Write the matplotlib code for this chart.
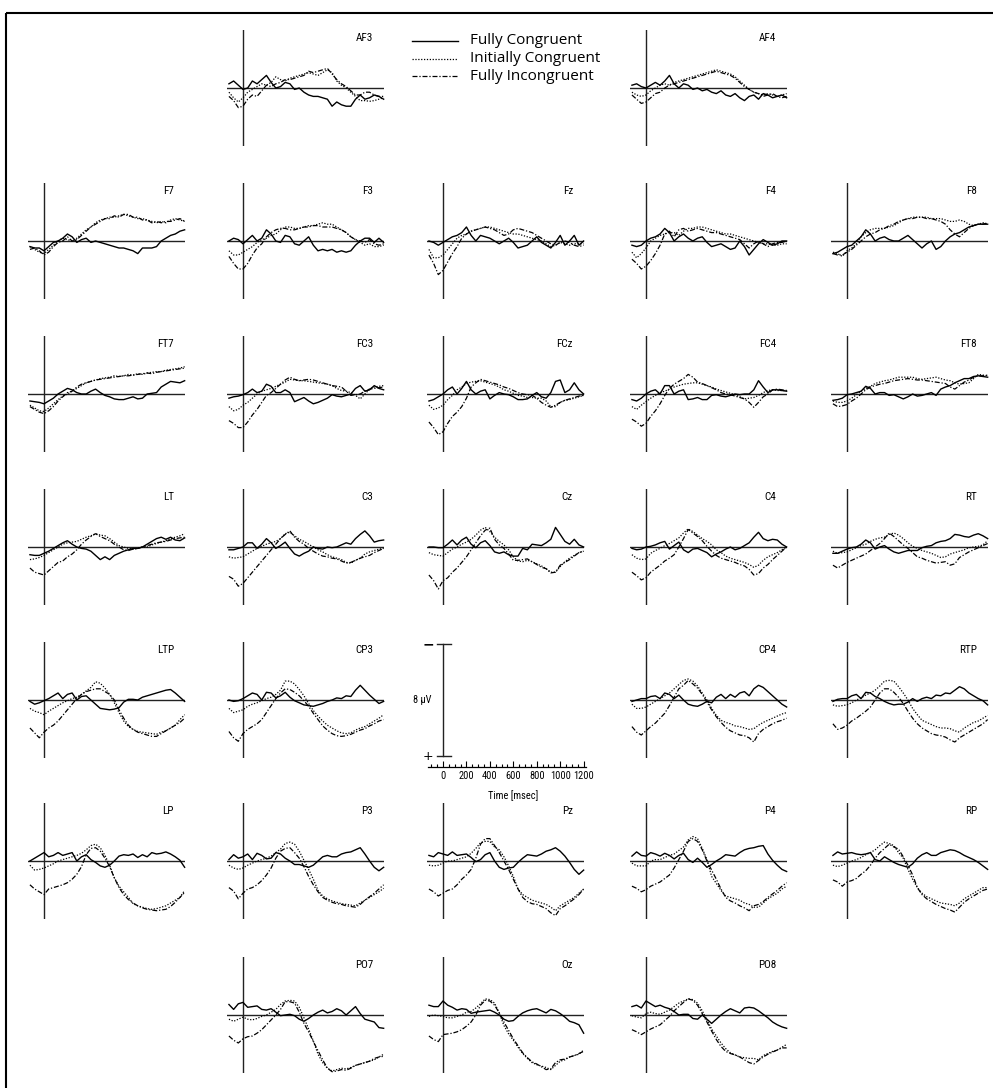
import matplotlib.pyplot as plt
from matplotlib import font_manager

# sample times (ms) of every waveform
times = [-120, -80, -40, 0, 40, 80, 120, 160, 200, 240, 280, 320, 360, 400, 440, 480, 520,
         560, 600, 640, 680, 720, 760, 800, 840, 880, 920, 960, 1000, 1040, 1080, 1120, 1160, 1200]

conditions = ["Fully Congruent", "Initially Congruent", "Fully Incongruent"]

# amplitudes in microvolt (negative plotted upwards), FC / IC / FI per channel
AF3_FC = [-0.3, -0.5, -0.2, 0.1, 0.0, -0.5, -0.3, -0.6, -0.9, -0.4, 0.0, -0.1, -0.4, -0.3, 0.1, 0.0, 0.3, 0.5, 0.6, 0.6, 0.7, 0.8, 1.3, 1.0, 1.2, 1.3, 1.3, 0.8, 0.5, 0.8, 0.7, 0.5, 0.6, 0.8]
AF3_IC = [0.3, 0.7, 1.0, 0.7, 0.3, 0.1, -0.1, -0.3, -0.2, -0.4, -0.8, -0.6, -0.5, -0.7, -0.8, -0.9, -1.0, -1.1, -1.0, -0.9, -1.1, -1.3, -1.1, -0.5, -0.2, 0.0, 0.3, 0.6, 0.9, 0.9, 0.95, 0.9, 0.8, 0.7]
AF3_FI = [0.6, 0.9, 1.4, 1.3, 0.8, 0.5, 0.6, 0.2, -0.2, -0.1, -0.3, -0.4, -0.6, -0.6, -0.7, -0.8, -0.9, -1.2, -1.1, -1.2, -1.3, -1.4, -1.0, -0.6, -0.3, -0.1, 0.2, 0.5, 0.5, 0.3, 0.3, 0.5, 0.6, 0.6]
AF4_FC = [-0.2, -0.3, -0.1, 0.0, -0.2, -0.4, -0.2, -0.5, -0.9, -0.3, 0.0, -0.3, -0.2, 0.1, 0.0, 0.2, 0.1, 0.3, 0.4, 0.2, 0.5, 0.6, 0.4, 0.7, 0.9, 0.6, 0.5, 0.8, 0.4, 0.5, 0.7, 0.6, 0.5, 0.7]
AF4_IC = [0.3, 0.5, 0.6, 0.5, 0.2, 0.0, -0.2, -0.3, -0.2, -0.4, -0.5, -0.6, -0.7, -0.8, -0.9, -1.0, -1.1, -1.2, -1.3, -1.2, -1.1, -1.0, -0.8, -0.5, -0.2, 0.1, 0.3, 0.4, 0.5, 0.4, 0.5, 0.6, 0.5, 0.4]
AF4_FI = [0.5, 0.8, 1.1, 1.0, 0.7, 0.4, 0.3, 0.0, -0.2, -0.3, -0.4, -0.5, -0.6, -0.7, -0.8, -0.9, -1.0, -1.1, -1.2, -1.1, -1.0, -0.9, -0.7, -0.4, -0.1, 0.1, 0.3, 0.4, 0.6, 0.5, 0.4, 0.6, 0.7, 0.6]

F7_FC = [0.4, 0.5, 0.5, 0.7, 0.4, 0.1, 0.0, -0.2, -0.5, -0.3, 0.1, -0.1, -0.2, 0.1, 0.0, 0.1, 0.2, 0.3, 0.4, 0.5, 0.5, 0.6, 0.7, 0.9, 0.5, 0.5, 0.5, 0.4, 0.0, -0.2, -0.4, -0.5, -0.7, -0.8]
F7_IC = [0.4, 0.6, 0.8, 0.9, 0.6, 0.3, 0.0, -0.2, -0.1, 0.0, -0.2, -0.5, -0.8, -1.0, -1.3, -1.5, -1.6, -1.7, -1.7, -1.8, -1.9, -1.8, -1.7, -1.6, -1.6, -1.5, -1.4, -1.3, -1.4, -1.3, -1.5, -1.6, -1.5, -1.4]
F7_FI = [0.6, 0.5, 0.7, 1.0, 0.8, 0.4, 0.1, 0.0, -0.3, 0.0, -0.1, -0.4, -0.7, -1.0, -1.2, -1.4, -1.6, -1.6, -1.8, -1.7, -1.9, -1.9, -1.7, -1.7, -1.5, -1.5, -1.3, -1.4, -1.3, -1.4, -1.4, -1.5, -1.6, -1.4]
F3_FC = [0.0, -0.2, -0.1, 0.2, -0.1, -0.4, 0.0, -0.2, -0.8, -0.5, 0.0, 0.1, -0.4, -0.3, 0.2, 0.3, 0.0, -0.3, 0.3, 0.7, 0.6, 0.7, 0.6, 0.8, 0.7, 0.8, 0.7, 0.3, 0.0, -0.2, -0.2, 0.1, -0.2, 0.1]
F3_IC = [0.7, 1.0, 1.0, 0.8, 0.6, 0.4, 0.1, -0.1, -0.2, -0.4, -0.5, -0.8, -1.0, -1.0, -0.9, -0.9, -1.0, -1.1, -1.1, -1.2, -1.3, -1.2, -1.2, -1.0, -0.8, -0.6, -0.3, -0.1, 0.1, 0.3, 0.2, 0.4, 0.4, 0.3]
F3_FI = [1.1, 1.6, 2.0, 2.0, 1.6, 1.0, 0.5, 0.2, -0.3, -0.6, -0.8, -0.9, -0.9, -0.8, -0.8, -0.9, -1.0, -1.0, -1.1, -1.1, -1.0, -1.0, -1.0, -0.9, -0.8, -0.6, -0.3, -0.1, 0.0, 0.1, -0.1, 0.2, 0.3, 0.2]
Fz_FC = [0.0, 0.1, 0.3, 0.1, -0.1, -0.3, -0.4, -0.6, -1.0, -0.4, 0.0, -0.4, -0.3, -0.2, 0.0, 0.2, 0.0, -0.2, 0.1, 0.5, 0.4, 0.3, 0.0, -0.3, 0.1, 0.3, 0.5, 0.1, -0.4, 0.3, 0.0, -0.4, 0.3, 0.0]
Fz_IC = [0.6, 1.2, 1.2, 1.0, 0.6, 0.2, -0.2, -0.4, -0.5, -0.7, -0.8, -0.9, -1.0, -1.0, -0.9, -0.8, -0.7, -0.6, -0.5, -0.5, -0.4, -0.3, -0.2, -0.1, 0.0, 0.2, 0.4, 0.3, 0.1, 0.2, 0.3, 0.2, 0.2, 0.2]
Fz_FI = [1.0, 1.6, 2.4, 2.1, 1.5, 0.9, 0.4, -0.2, -0.5, -0.7, -0.8, -0.9, -1.0, -0.9, -0.8, -0.6, -0.4, -0.5, -0.8, -0.9, -0.8, -0.7, -0.6, -0.4, -0.2, 0.0, 0.2, 0.3, 0.1, 0.0, 0.1, 0.3, 0.4, 0.3]
F4_FC = [0.3, 0.4, 0.3, 0.0, -0.2, -0.3, -0.5, -0.9, -0.6, 0.0, -0.3, -0.5, -0.2, 0.0, -0.2, -0.3, 0.1, 0.4, 0.3, 0.2, 0.4, 0.6, 0.5, 0.0, 0.4, 1.0, 0.6, 0.2, -0.1, 0.1, 0.3, 0.2, 0.0, 0.0]
F4_IC = [0.8, 1.2, 0.9, 0.5, 0.0, -0.2, -0.4, -0.5, -0.6, -0.6, -0.4, -0.7, -0.9, -0.9, -1.0, -1.0, -0.9, -0.8, -0.7, -0.6, -0.5, -0.5, -0.4, -0.3, -0.2, -0.1, 0.0, 0.1, 0.2, 0.2, 0.3, 0.3, 0.2, 0.2]
F4_FI = [1.3, 1.6, 2.0, 1.8, 1.4, 0.9, 0.3, -0.5, -0.7, -0.3, -0.8, -0.9, -0.7, -0.8, -0.9, -0.8, -0.7, -0.6, -0.6, -0.5, -0.4, -0.3, -0.2, -0.1, 0.2, 0.5, 0.2, 0.0, 0.2, 0.4, 0.2, 0.1, 0.1, 0.0]
F8_FC = [0.9, 0.8, 0.6, 0.4, 0.3, 0.0, -0.3, -0.8, -0.5, 0.0, -0.2, -0.3, -0.1, 0.0, 0.0, -0.2, -0.4, -0.1, 0.2, 0.5, 0.2, 0.0, 0.6, 0.4, 0.0, -0.3, -0.5, -0.6, -0.8, -1.0, -1.1, -1.2, -1.2, -1.2]
F8_IC = [0.8, 0.9, 1.1, 0.7, 0.5, 0.2, -0.3, -0.6, -0.8, -0.9, -0.9, -0.9, -1.0, -1.1, -1.3, -1.5, -1.6, -1.7, -1.7, -1.7, -1.7, -1.6, -1.6, -1.6, -1.5, -1.4, -1.4, -1.5, -1.4, -1.2, -1.1, -1.2, -1.3, -1.2]
F8_FI = [0.9, 1.0, 1.0, 0.8, 0.6, 0.3, 0.0, -0.3, -0.5, -0.6, -0.8, -0.9, -1.1, -1.2, -1.4, -1.5, -1.6, -1.6, -1.7, -1.7, -1.6, -1.6, -1.5, -1.4, -1.2, -0.8, -0.5, -0.3, -0.6, -0.9, -1.1, -1.2, -1.2, -1.3]

FT7_FC = [0.5, 0.55, 0.6, 0.7, 0.5, 0.3, 0.0, -0.2, -0.4, -0.3, -0.1, 0.0, 0.0, -0.2, -0.35, -0.1, 0.1, 0.2, 0.35, 0.4, 0.4, 0.3, 0.2, 0.35, 0.3, 0.0, -0.05, -0.1, -0.5, -0.7, -0.9, -0.85, -0.8, -0.95]
FT7_IC = [0.8, 1.0, 1.2, 1.25, 1.0, 0.7, 0.4, 0.15, 0.0, -0.2, -0.4, -0.6, -0.8, -0.9, -1.0, -1.1, -1.15, -1.2, -1.3, -1.25, -1.3, -1.4, -1.35, -1.45, -1.4, -1.5, -1.55, -1.6, -1.6, -1.7, -1.75, -1.8, -1.85, -1.95]
FT7_FI = [0.9, 1.1, 1.3, 1.4, 1.2, 0.9, 0.5, 0.2, -0.1, -0.2, -0.5, -0.7, -0.8, -0.9, -1.0, -1.05, -1.1, -1.15, -1.2, -1.25, -1.3, -1.3, -1.35, -1.4, -1.45, -1.5, -1.45, -1.55, -1.6, -1.65, -1.7, -1.75, -1.8, -1.85]
FC3_FC = [0.3, 0.2, 0.15, 0.05, -0.1, -0.35, -0.1, -0.2, -0.7, -0.55, -0.1, -0.1, -0.3, -0.1, 0.55, 0.4, 0.25, 0.5, 0.7, 0.6, 0.45, 0.3, 0.05, 0.15, 0.2, 0.1, 0.0, -0.4, -0.6, -0.2, -0.3, -0.6, -0.4, -0.3]
FC3_IC = [0.9, 1.2, 1.1, 0.8, 0.6, 0.3, 0.0, -0.2, -0.3, -0.4, -0.55, -0.7, -0.85, -1.05, -1.0, -0.95, -0.95, -0.9, -0.85, -0.8, -0.75, -0.7, -0.6, -0.4, -0.25, -0.2, -0.1, 0.1, 0.35, 0.0, -0.35, -0.5, -0.55, -0.6]
FC3_FI = [1.9, 2.1, 2.4, 2.4, 2.0, 1.5, 1.1, 0.6, 0.1, -0.1, -0.4, -0.7, -1.0, -1.2, -1.05, -0.95, -1.0, -1.05, -1.0, -0.9, -0.8, -0.7, -0.6, -0.55, -0.5, -0.2, 0.1, 0.05, 0.0, -0.2, -0.35, -0.4, -0.45, -0.5]
FCz_FC = [0.5, 0.4, 0.2, 0.0, -0.3, -0.5, 0.0, -0.4, -0.9, -0.3, 0.0, -0.2, -0.3, 0.35, 0.1, -0.1, 0.0, 0.05, 0.2, 0.4, 0.4, 0.35, 0.1, -0.1, 0.2, 0.3, -0.1, -0.9, -1.0, -0.1, -0.3, -0.8, -0.3, 0.0]
FCz_IC = [0.8, 1.1, 1.0, 0.8, 0.4, 0.1, -0.3, -0.5, -0.75, -0.85, -0.9, -0.95, -0.85, -0.75, -0.65, -0.5, -0.3, -0.2, -0.05, 0.1, 0.15, 0.25, 0.25, 0.3, 0.3, 0.5, 0.9, 0.9, 0.6, 0.45, 0.4, 0.3, 0.2, 0.1]
FCz_FI = [2.0, 2.4, 2.9, 2.7, 2.1, 1.6, 1.3, 0.9, 0.3, -0.5, -0.8, -1.05, -0.95, -0.85, -0.75, -0.65, -0.5, -0.4, -0.25, -0.1, 0.0, 0.05, 0.1, 0.3, 0.6, 0.8, 0.95, 0.8, 0.6, 0.45, 0.35, 0.25, 0.15, 0.1]
FC4_FC = [0.4, 0.5, 0.3, 0.0, -0.2, -0.3, 0.0, -0.6, -0.6, 0.0, -0.2, -0.3, 0.4, 0.35, 0.25, 0.4, 0.4, 0.1, 0.05, 0.15, 0.2, 0.1, 0.0, 0.05, 0.0, 0.0, -0.3, -0.95, -0.5, -0.1, -0.3, -0.3, -0.25, -0.2]
FC4_IC = [0.9, 1.1, 0.8, 0.55, 0.3, 0.1, -0.1, -0.2, -0.35, -0.5, -0.6, -0.7, -0.75, -0.8, -0.8, -0.7, -0.6, -0.5, -0.35, -0.25, -0.15, -0.05, 0.05, 0.2, 0.35, 0.3, 0.25, 0.1, -0.1, -0.25, -0.3, -0.25, -0.25, -0.25]
FC4_FI = [1.8, 2.0, 2.3, 2.1, 1.6, 1.2, 0.7, 0.1, -0.4, -0.7, -0.9, -1.1, -1.4, -1.2, -0.85, -0.75, -0.6, -0.45, -0.3, -0.1, 0.0, 0.05, 0.15, 0.25, 0.35, 0.6, 0.95, 0.6, 0.2, 0.0, -0.3, -0.35, -0.3, -0.25]
FT8_FC = [0.45, 0.4, 0.3, 0.05, 0.0, -0.1, -0.2, -0.55, -0.4, 0.0, -0.1, -0.1, 0.1, 0.05, 0.2, 0.35, 0.2, 0.0, 0.15, 0.1, 0.0, -0.1, 0.1, -0.35, -0.5, -0.6, -0.8, -0.95, -1.1, -1.1, -1.25, -1.3, -1.25, -1.2]
FT8_IC = [0.5, 0.6, 0.6, 0.5, 0.3, 0.05, -0.2, -0.4, -0.55, -0.75, -0.85, -0.95, -1.0, -1.1, -1.2, -1.2, -1.2, -1.2, -1.1, -1.05, -1.1, -1.15, -1.2, -1.1, -1.0, -0.95, -0.8, -0.7, -0.75, -0.8, -1.1, -1.4, -1.35, -1.3]
FT8_FI = [0.7, 0.9, 0.85, 0.75, 0.5, 0.3, 0.0, -0.3, -0.5, -0.6, -0.7, -0.75, -0.85, -0.95, -1.0, -1.05, -1.1, -1.05, -1.0, -1.0, -0.95, -0.9, -0.85, -0.8, -0.75, -0.5, -0.35, -0.6, -0.85, -1.0, -1.2, -1.3, -1.3, -1.35]

LT_FC = [0.55, 0.6, 0.6, 0.45, 0.3, 0.1, -0.1, -0.3, -0.45, -0.2, 0.0, 0.1, 0.15, 0.3, 0.6, 0.9, 0.7, 0.9, 0.6, 0.45, 0.3, 0.2, 0.1, 0.1, 0.0, -0.2, -0.4, -0.6, -0.7, -0.55, -0.7, -0.5, -0.45, -0.65]
LT_IC = [0.9, 0.85, 0.75, 0.6, 0.4, 0.2, 0.0, -0.2, -0.3, -0.35, -0.4, -0.55, -0.7, -0.8, -0.95, -0.85, -0.8, -0.6, -0.35, -0.1, 0.0, 0.1, 0.15, 0.1, 0.0, 0.0, -0.15, -0.25, -0.35, -0.45, -0.6, -0.7, -0.8, -0.95]
LT_FI = [1.5, 1.8, 1.9, 2.0, 1.7, 1.4, 1.1, 1.0, 0.7, 0.5, 0.2, -0.2, -0.5, -0.75, -0.95, -0.75, -0.6, -0.45, -0.2, 0.0, 0.2, 0.25, 0.15, 0.1, 0.0, -0.1, -0.2, -0.3, -0.35, -0.4, -0.5, -0.6, -0.65, -0.7]
C3_FC = [0.2, 0.2, 0.1, 0.0, -0.3, -0.3, 0.1, -0.2, -0.6, -0.3, 0.1, -0.1, -0.35, 0.1, 0.5, 0.65, 0.45, 0.3, 0.0, 0.1, 0.15, 0.0, 0.05, 0.0, -0.15, -0.3, -0.2, -0.6, -0.9, -1.15, -0.8, -0.35, -0.45, -0.5]
C3_IC = [0.7, 0.8, 0.75, 0.7, 0.5, 0.3, 0.1, -0.05, -0.2, -0.3, -0.4, -0.6, -0.95, -1.05, -0.8, -0.55, -0.4, -0.2, 0.0, 0.2, 0.35, 0.55, 0.7, 0.8, 0.9, 1.1, 1.15, 0.95, 0.8, 0.5, 0.35, 0.25, 0.15, 0.1]
C3_FI = [2.1, 2.3, 2.8, 2.6, 2.2, 1.8, 1.4, 1.0, 0.6, 0.2, -0.2, -0.6, -0.9, -1.15, -0.7, -0.4, -0.2, 0.1, 0.3, 0.5, 0.65, 0.7, 0.8, 0.85, 1.0, 1.15, 1.1, 0.95, 0.8, 0.7, 0.6, 0.4, 0.25, 0.1]
Cz_FC = [0.0, 0.0, 0.05, 0.05, -0.2, -0.5, -0.15, -0.5, -0.7, -0.2, 0.05, -0.3, -0.45, -0.1, 0.35, 0.45, 0.35, 0.55, 0.65, 0.65, 0.1, 0.2, -0.2, -0.15, -0.1, -0.3, -0.55, -1.4, -0.9, -0.4, -0.2, -0.55, -0.15, 0.0]
Cz_IC = [0.4, 0.55, 0.6, 0.65, 0.4, 0.15, 0.0, -0.2, -0.35, -0.55, -0.85, -1.2, -1.4, -1.1, -0.7, -0.4, -0.15, 0.2, 0.7, 1.0, 1.05, 0.95, 1.05, 1.2, 1.35, 1.55, 1.8, 1.8, 1.4, 1.05, 0.8, 0.6, 0.4, 0.3]
Cz_FI = [2.0, 2.4, 3.0, 2.4, 2.2, 1.8, 1.5, 1.1, 0.7, 0.2, -0.3, -0.8, -1.2, -1.35, -0.55, -0.15, 0.1, 0.5, 0.95, 0.95, 0.9, 0.85, 1.05, 1.25, 1.45, 1.55, 1.85, 1.8, 1.3, 1.1, 0.9, 0.65, 0.4, 0.3]
C4_FC = [0.1, 0.2, 0.15, 0.0, -0.05, -0.15, -0.3, -0.4, 0.15, -0.1, -0.35, 0.2, 0.4, 0.15, 0.1, 0.25, 0.4, 0.7, 0.5, 0.35, 0.15, 0.0, 0.2, 0.1, -0.1, -0.3, -0.7, -1.05, -0.6, -0.45, -0.55, -0.5, -0.2, 0.0]
C4_IC = [0.55, 0.8, 0.9, 0.85, 0.45, 0.25, 0.1, -0.1, -0.25, -0.45, -0.65, -1.0, -1.3, -1.1, -0.85, -0.6, -0.4, -0.15, 0.2, 0.4, 0.65, 0.8, 0.9, 1.0, 1.1, 1.25, 1.45, 1.3, 0.95, 0.7, 0.55, 0.4, 0.2, 0.0]
C4_FI = [1.8, 2.05, 2.35, 2.2, 1.8, 1.55, 1.3, 1.0, 0.8, 0.55, 0.0, -0.6, -1.25, -1.0, -0.75, -0.45, -0.05, 0.3, 0.6, 0.8, 0.9, 1.0, 1.1, 1.25, 1.35, 1.6, 2.0, 1.9, 1.5, 1.25, 0.9, 0.6, 0.3, 0.0]
RT_FC = [0.45, 0.45, 0.3, 0.15, 0.05, 0.0, -0.2, -0.5, -0.3, 0.15, 0.0, -0.1, 0.15, 0.35, 0.45, 0.35, 0.25, 0.25, 0.25, 0.05, -0.05, -0.1, -0.3, -0.4, -0.45, -0.6, -0.9, -0.85, -0.75, -0.7, -0.85, -0.95, -0.8, -0.6]
RT_IC = [0.3, 0.45, 0.4, 0.35, 0.2, 0.05, -0.1, -0.2, -0.4, -0.55, -0.65, -0.7, -0.9, -1.0, -0.85, -0.6, -0.3, -0.05, 0.1, 0.25, 0.35, 0.45, 0.6, 0.75, 0.7, 0.5, 0.4, 0.3, 0.2, 0.05, 0.0, -0.05, -0.15, -0.45]
RT_FI = [1.3, 1.5, 1.3, 1.1, 0.95, 0.8, 0.65, 0.5, 0.25, 0.0, -0.25, -0.6, -1.0, -0.75, -0.45, -0.15, 0.1, 0.4, 0.7, 0.8, 0.95, 1.05, 1.15, 1.1, 1.05, 1.3, 1.2, 0.75, 0.55, 0.35, 0.2, 0.05, -0.1, -0.25]

LTP_FC = [0.1, 0.3, 0.2, 0.05, -0.1, -0.3, -0.5, -0.1, -0.4, -0.5, 0.0, -0.25, -0.3, 0.0, 0.3, 0.6, 0.65, 0.7, 0.65, 0.55, 0.15, -0.05, -0.05, 0.0, -0.2, -0.3, -0.4, -0.5, -0.6, -0.7, -0.75, -0.5, -0.2, 0.1]
LTP_IC = [0.6, 0.8, 0.9, 1.05, 0.8, 0.6, 0.4, 0.2, 0.05, -0.1, -0.2, -0.4, -0.65, -0.9, -1.3, -1.2, -0.85, -0.4, 0.2, 0.9, 1.5, 1.9, 2.1, 2.25, 2.3, 2.35, 2.4, 2.45, 2.3, 2.2, 2.0, 1.8, 1.4, 1.05]
LTP_FI = [2.0, 2.35, 2.7, 2.3, 2.0, 1.8, 1.5, 1.1, 0.7, 0.3, -0.1, -0.4, -0.6, -0.7, -0.8, -0.8, -0.6, -0.4, 0.0, 0.7, 1.3, 1.8, 2.1, 2.3, 2.4, 2.5, 2.6, 2.6, 2.4, 2.2, 2.0, 1.8, 1.6, 1.3]
CP3_FC = [0.0, 0.1, 0.05, -0.1, -0.3, -0.5, -0.4, 0.0, -0.55, -0.5, -0.15, -0.3, -0.55, -0.2, 0.05, 0.2, 0.35, 0.4, 0.45, 0.35, 0.25, 0.1, 0.0, -0.15, -0.1, -0.3, -0.25, -0.7, -1.05, -0.7, -0.35, -0.05, 0.25, 0.1]
CP3_IC = [0.6, 0.9, 0.8, 0.7, 0.45, 0.3, 0.2, 0.05, -0.1, -0.2, -0.4, -0.7, -1.35, -1.35, -1.15, -0.75, -0.3, 0.25, 0.75, 1.15, 1.5, 1.8, 2.0, 2.2, 2.35, 2.4, 2.35, 2.15, 2.0, 1.9, 1.7, 1.5, 1.3, 1.05]
CP3_FI = [2.25, 2.7, 2.95, 2.4, 2.1, 1.9, 1.7, 1.4, 0.9, 0.4, -0.1, -0.5, -0.8, -0.75, -0.55, -0.3, 0.05, 0.45, 0.95, 1.4, 1.85, 2.15, 2.4, 2.55, 2.6, 2.55, 2.45, 2.3, 2.15, 2.05, 1.85, 1.7, 1.5, 1.4]
CP4_FC = [0.1, 0.0, -0.1, -0.1, -0.25, -0.3, -0.1, -0.5, -0.4, -0.1, -0.35, 0.0, 0.3, 0.4, 0.45, 0.3, 0.1, 0.2, -0.2, -0.4, -0.1, -0.4, -0.2, -0.5, -0.6, -0.3, -0.8, -1.05, -0.9, -0.6, -0.3, 0.0, 0.3, 0.5]
CP4_IC = [0.3, 0.6, 0.6, 0.5, 0.3, 0.1, -0.1, -0.3, -0.5, -0.8, -1.1, -1.4, -1.5, -1.35, -1.0, -0.5, 0.0, 0.6, 1.1, 1.45, 1.6, 1.7, 1.85, 1.9, 2.0, 2.1, 2.05, 1.8, 1.6, 1.45, 1.3, 1.15, 1.0, 0.9]
CP4_FI = [1.9, 2.3, 2.5, 2.2, 1.9, 1.65, 1.3, 0.95, 0.4, -0.2, -0.8, -1.05, -1.4, -1.15, -0.85, -0.4, 0.15, 0.7, 1.2, 1.6, 1.95, 2.2, 2.35, 2.5, 2.55, 2.7, 3.0, 2.4, 2.1, 1.9, 1.7, 1.55, 1.45, 1.3]
RTP_FC = [0.1, -0.05, -0.1, -0.1, -0.3, -0.4, -0.1, -0.55, -0.5, -0.25, -0.1, 0.1, 0.25, 0.35, 0.3, 0.3, 0.15, -0.1, 0.1, -0.1, -0.2, -0.1, -0.35, -0.3, -0.5, -0.45, -0.7, -0.95, -0.8, -0.5, -0.3, -0.1, 0.05, 0.35]
RTP_IC = [0.35, 0.45, 0.4, 0.35, 0.2, 0.0, -0.15, -0.35, -0.5, -0.7, -1.0, -1.35, -1.4, -1.35, -0.95, -0.5, 0.0, 0.6, 1.05, 1.45, 1.6, 1.75, 1.9, 2.0, 2.0, 2.05, 2.2, 2.3, 2.0, 1.8, 1.6, 1.5, 1.3, 1.1]
RTP_FI = [1.7, 2.1, 2.0, 1.8, 1.5, 1.3, 1.05, 0.8, 0.5, 0.0, -0.5, -0.8, -0.8, -0.55, -0.2, 0.25, 0.8, 1.3, 1.7, 2.0, 2.2, 2.4, 2.5, 2.55, 2.65, 2.85, 3.0, 2.7, 2.5, 2.3, 2.1, 1.9, 1.7, 1.4]

LP_FC = [0.0, -0.2, -0.4, -0.6, -0.3, -0.4, -0.6, -0.4, -0.5, -0.6, 0.0, -0.3, -0.45, -0.1, 0.1, 0.35, 0.45, 0.3, 0.0, -0.35, -0.45, -0.4, -0.5, -0.25, -0.45, -0.3, -0.6, -0.5, -0.55, -0.65, -0.5, -0.3, -0.05, 0.45]
LP_IC = [0.3, 0.65, 0.6, 0.5, 0.35, 0.2, 0.0, -0.1, -0.2, -0.3, -0.4, -0.55, -0.8, -1.1, -1.2, -0.95, -0.4, 0.3, 1.2, 1.8, 2.2, 2.6, 3.05, 3.2, 3.3, 3.4, 3.45, 3.4, 3.3, 3.2, 3.0, 2.8, 2.6, 2.1]
LP_FI = [1.7, 2.0, 2.2, 2.4, 2.0, 1.9, 1.8, 1.7, 1.55, 1.3, 0.95, 0.4, -0.45, -0.9, -0.95, -0.7, -0.2, 0.4, 1.2, 1.9, 2.4, 2.75, 3.0, 3.2, 3.35, 3.45, 3.5, 3.55, 3.5, 3.45, 3.25, 2.95, 2.6, 2.25]
P3_FC = [-0.1, -0.45, -0.2, -0.3, -0.5, -0.1, -0.55, -0.4, -0.15, -0.2, -0.6, -0.5, -0.2, 0.0, 0.25, 0.25, 0.35, 0.45, 0.3, 0.0, -0.3, -0.4, -0.3, -0.3, -0.5, -0.6, -0.65, -0.8, -0.95, -0.5, 0.0, 0.45, 0.7, 0.45]
P3_IC = [0.3, 0.5, 0.6, 0.5, 0.3, 0.15, 0.0, -0.1, -0.2, -0.35, -0.6, -0.85, -1.25, -1.35, -1.2, -0.7, -0.05, 0.6, 1.3, 2.1, 2.5, 2.7, 2.85, 2.95, 3.05, 3.1, 3.15, 3.2, 3.0, 2.8, 2.6, 2.4, 2.2, 1.95]
P3_FI = [1.9, 2.15, 2.7, 2.3, 2.0, 1.9, 1.7, 1.4, 1.0, 0.5, -0.2, -0.7, -0.9, -0.95, -0.6, -0.2, 0.4, 1.1, 1.7, 2.2, 2.6, 2.8, 2.95, 3.05, 3.1, 3.2, 3.25, 3.3, 3.1, 2.8, 2.55, 2.3, 2.0, 1.7]
Pz_FC = [-0.4, -0.3, -0.6, -0.5, -0.4, -0.65, -0.4, -0.45, -0.5, -0.25, 0.05, -0.1, -0.45, -0.6, 0.0, 0.45, 0.6, 0.5, 0.45, 0.1, -0.2, -0.45, -0.4, -0.35, -0.5, -0.7, -0.8, -0.95, -0.7, -0.35, 0.1, 0.6, 0.95, 0.65]
Pz_IC = [0.3, 0.35, 0.3, 0.15, 0.0, 0.0, -0.1, -0.2, -0.3, -0.55, -0.9, -1.3, -1.4, -1.4, -1.0, -0.8, -0.3, 0.35, 1.1, 2.0, 2.4, 2.6, 2.8, 2.9, 3.0, 3.1, 3.3, 3.55, 3.2, 3.0, 2.8, 2.6, 2.3, 2.0]
Pz_FI = [2.0, 2.2, 2.5, 2.3, 2.1, 2.0, 1.7, 1.3, 1.0, 0.6, -0.2, -1.2, -1.6, -1.6, -1.1, -0.6, 0.0, 0.6, 1.3, 2.0, 2.6, 2.9, 3.05, 3.1, 3.25, 3.4, 3.7, 3.9, 3.4, 3.2, 2.95, 2.7, 2.4, 2.0]
P4_FC = [-0.35, -0.65, -0.4, -0.35, -0.6, -0.5, -0.35, -0.55, -0.4, -0.15, -0.4, -0.55, -0.1, 0.1, -0.2, 0.1, 0.45, 0.25, 0.0, -0.2, -0.45, -0.4, -0.35, -0.6, -0.8, -0.9, -0.95, -1.05, -1.1, -0.5, -0.05, 0.3, 0.6, 0.75]
P4_IC = [0.15, 0.35, 0.35, 0.35, 0.0, -0.1, -0.1, -0.25, -0.4, -0.5, -0.75, -1.0, -1.5, -1.75, -1.6, -0.9, -0.1, 1.1, 1.6, 2.1, 2.5, 2.6, 2.7, 2.8, 3.0, 3.1, 3.3, 3.3, 3.0, 2.7, 2.5, 2.3, 2.0, 1.8]
P4_FI = [1.8, 1.95, 2.2, 2.05, 1.8, 1.65, 1.5, 1.25, 1.0, 0.5, -0.1, -0.7, -1.4, -1.6, -1.4, -0.8, 0.0, 0.65, 1.3, 2.0, 2.6, 2.85, 3.0, 3.2, 3.35, 3.55, 3.2, 3.1, 2.9, 2.6, 2.35, 2.1, 1.8, 1.55]
RP_FC = [-0.4, -0.65, -0.5, -0.55, -0.6, -0.5, -0.45, -0.5, -0.6, -0.1, 0.0, -0.3, -0.1, 0.1, 0.25, 0.35, 0.45, 0.2, -0.2, -0.45, -0.6, -0.4, -0.4, -0.6, -0.7, -0.8, -0.75, -0.6, -0.4, -0.25, -0.1, 0.1, 0.35, 0.6]
RP_IC = [0.3, 0.4, 0.3, 0.15, 0.0, -0.1, -0.25, -0.45, -0.6, -0.8, -1.1, -1.35, -1.25, -1.1, -0.6, -0.2, 0.6, 1.3, 1.9, 2.3, 2.55, 2.7, 2.85, 3.0, 3.05, 3.1, 3.2, 3.0, 2.7, 2.5, 2.3, 2.1, 1.9, 1.9]
RP_FI = [1.35, 1.5, 1.8, 1.5, 1.4, 1.25, 0.95, 0.7, 0.3, -0.2, -0.6, -0.9, -1.2, -1.0, -0.85, -0.3, 0.3, 1.0, 1.9, 2.4, 2.7, 2.9, 3.1, 3.25, 3.4, 3.5, 3.65, 3.3, 2.95, 2.7, 2.5, 2.3, 2.1, 2.0]

PO7_FC = [-0.75, -0.4, -0.8, -0.9, -0.55, -0.6, -0.65, -0.4, -0.35, -0.45, -0.2, 0.05, 0.0, -0.05, 0.05, 0.3, 0.45, 0.25, 0.0, -0.2, -0.35, -0.15, -0.25, -0.45, -0.3, 0.0, -0.3, -0.6, -0.1, 0.3, 0.4, 0.5, 0.9, 0.95]
PO7_IC = [0.3, 0.45, 0.3, 0.15, 0.3, 0.35, 0.25, 0.1, 0.0, -0.2, -0.4, -0.75, -1.0, -1.05, -1.0, -0.55, 0.2, 1.0, 1.85, 2.8, 3.4, 3.8, 4.0, 3.9, 3.8, 3.85, 3.75, 3.6, 3.5, 3.4, 3.3, 3.2, 3.0, 2.8]
PO7_FI = [1.5, 1.8, 2.0, 1.7, 1.55, 1.5, 1.3, 1.05, 0.7, 0.35, 0.0, -0.4, -0.95, -0.95, -0.85, -0.2, 0.6, 1.2, 1.9, 2.55, 3.2, 3.8, 4.05, 4.0, 3.9, 3.95, 3.8, 3.6, 3.5, 3.4, 3.3, 3.1, 3.0, 2.95]
Oz_FC = [-0.7, -0.6, -0.6, -1.0, -0.7, -0.55, -0.35, -0.45, -0.4, -0.12, -0.2, -0.25, -0.3, -0.35, -0.2, 0.0, 0.3, 0.45, 0.4, 0.1, -0.15, -0.3, -0.4, -0.45, -0.3, -0.15, -0.4, -0.3, -0.1, 0.15, 0.45, 0.55, 0.7, 1.3]
Oz_IC = [0.1, 0.0, 0.05, 0.1, 0.2, 0.2, 0.1, 0.0, -0.2, -0.25, -0.5, -0.8, -1.15, -1.1, -0.85, -0.15, 0.75, 1.35, 1.8, 2.3, 2.75, 3.1, 3.4, 3.55, 3.65, 3.75, 3.9, 3.6, 3.3, 3.2, 3.0, 2.9, 2.8, 2.5]
Oz_FI = [1.5, 1.75, 1.9, 1.4, 1.35, 1.3, 1.2, 1.05, 0.8, 0.5, 0.0, -0.7, -1.05, -1.0, -0.7, -0.15, 0.5, 1.1, 1.7, 2.2, 2.7, 3.05, 3.35, 3.5, 3.7, 3.9, 3.85, 3.4, 3.2, 3.15, 3.0, 2.9, 2.75, 2.6]
PO8_FC = [-0.6, -0.7, -0.5, -1.0, -0.8, -0.6, -0.7, -0.55, -0.45, -0.25, 0.0, -0.05, -0.05, 0.25, 0.3, 0.0, 0.3, 0.6, 0.3, 0.0, -0.25, -0.45, -0.3, -0.15, -0.5, -0.55, -0.5, -0.3, -0.05, 0.2, 0.5, 0.7, 0.85, 0.95]
PO8_IC = [0.05, 0.15, 0.2, -0.1, -0.2, -0.1, -0.05, -0.2, -0.35, -0.6, -0.85, -1.0, -1.15, -1.1, -0.85, -0.3, 0.35, 1.0, 1.5, 2.0, 2.4, 2.7, 2.85, 3.0, 3.05, 3.1, 3.1, 3.2, 2.9, 2.75, 2.6, 2.5, 2.3, 2.1]
PO8_FI = [1.05, 1.2, 1.4, 1.2, 1.0, 0.85, 0.7, 0.4, 0.1, -0.3, -0.6, -0.9, -1.15, -1.05, -0.7, -0.1, 0.5, 1.15, 1.75, 2.25, 2.6, 2.75, 2.85, 3.0, 3.2, 3.4, 3.5, 3.25, 3.0, 2.8, 2.65, 2.5, 2.35, 2.35]

# channel -> (row, column) on the montage
layout = [
    ("AF3", 0, 1), ("AF4", 0, 3),
    ("F7", 1, 0), ("F3", 1, 1), ("Fz", 1, 2), ("F4", 1, 3), ("F8", 1, 4),
    ("FT7", 2, 0), ("FC3", 2, 1), ("FCz", 2, 2), ("FC4", 2, 3), ("FT8", 2, 4),
    ("LT", 3, 0), ("C3", 3, 1), ("Cz", 3, 2), ("C4", 3, 3), ("RT", 3, 4),
    ("LTP", 4, 0), ("CP3", 4, 1), ("CP4", 4, 3), ("RTP", 4, 4),
    ("LP", 5, 0), ("P3", 5, 1), ("Pz", 5, 2), ("P4", 5, 3), ("RP", 5, 4),
    ("PO7", 6, 1), ("Oz", 6, 2), ("PO8", 6, 3),
]
g = globals()
waves = {name: (g[name + "_FC"], g[name + "_IC"], g[name + "_FI"]) for name, _, _ in layout}
for name, trio in waves.items():
    for s in trio:
        assert len(s) == len(times), (name, len(s))

# page geometry in pixels
W, H = 993, 1088
SX = 0.1172   # px per ms
SY = 14.0     # px per microvolt
col_zero = [44, 243, 443, 646, 847]
row_base = [88, 241, 394, 547, 700, 861, 1015]

installed = {f.name for f in font_manager.fontManager.ttflist}
narrow = [f for f in ["Liberation Sans Narrow", "Roboto Condensed", "DejaVu Sans Condensed"]
          if f in installed] + ["Liberation Sans", "DejaVu Sans"]
humanist = ["Open Sans", "DejaVu Sans"]

styles = [
    dict(color="black", lw=1.0, ls="-"),
    dict(color="black", lw=0.9, ls=(0, (1, 1.3))),
    dict(color="black", lw=0.9, ls=(0, (4, 1.5, 1, 1.5))),
]

fig = plt.figure(figsize=(W / 100, H / 100), dpi=100)

# page overlay in pixel units (frame + legend)
page = fig.add_axes([0, 0, 1, 1])
page.set_xlim(0, W)
page.set_ylim(H, 0)
page.axis("off")
page.plot([5.5, 5.5], [12.5, H], color="black", lw=1.5, solid_capstyle="butt")
page.plot([5.5, W], [12.5, 12.5], color="black", lw=1.5, solid_capstyle="butt")
for y, label, st in zip([41, 58.5, 76], conditions, styles):
    page.plot([412, 458], [y, y], **st)
    page.text(470, y, label, ha="left", va="center", fontsize=11, family=humanist)


def make_axes(x0, y0, t_lo=-135, t_hi=1205, v_lo=-4.15, v_hi=4.15):
    left = x0 + t_lo * SX
    bottom = y0 + v_hi * SY
    ax = fig.add_axes([left / W, 1 - bottom / H, (t_hi - t_lo) * SX / W, (v_hi - v_lo) * SY / H])
    ax.set_xlim(t_lo, t_hi)
    ax.set_ylim(v_hi, v_lo)  # negative up
    return ax


for name, r, c in layout:
    ax = make_axes(col_zero[c], row_base[r])
    ax.axis("off")
    ax.axhline(0, color="#222222", lw=1.0)
    ax.axvline(0, color="#222222", lw=1.0)
    for series, st in zip(waves[name], styles):
        ax.plot(times, series, clip_on=False, **st)
    ax.text(1109, -3.6, name, ha="right", va="center", fontsize=8,
            family=narrow, fontstretch="condensed")

# calibration panel
ax = make_axes(col_zero[2], row_base[4], v_hi=6.6)
ax.patch.set_visible(False)
for side in ["left", "right", "top"]:
    ax.spines[side].set_visible(False)
ax.spines["bottom"].set_position(("data", 4.79))
ax.spines["bottom"].set_bounds(-130, 1220)
ax.spines["bottom"].set_linewidth(0.9)
ax.set_yticks([])
ax.set_xticks([0, 200, 400, 600, 800, 1000, 1200],
              labels=["0", "200", "400", "600", "800", "1000", "1200"],
              fontsize=7.5, family=narrow)
ax.set_xticks(list(range(-100, 1201, 50)), minor=True)
ax.tick_params(axis="x", which="major", direction="in", length=4, width=0.8, pad=3)
ax.tick_params(axis="x", which="minor", direction="in", length=2, width=0.8)
ax.plot([0, 0], [-4, 4], color="#222222", lw=1.0)
ax.plot([-50, 65], [-4, -4], color="#222222", lw=1.0)
ax.plot([-50, 65], [4, 4], color="#222222", lw=1.0)
ax.text(-125, -4, "\u2212", ha="center", va="center", fontsize=10, fontweight="bold")
ax.text(-125, 4, "+", ha="center", va="center", fontsize=9)
ax.text(-95, 0, "8 \u00b5V", ha="right", va="center", fontsize=7.5, family=narrow)
ax.text(600, 6.8, "Time [msec]", ha="center", va="center", fontsize=7.5, family=narrow)

fig.savefig("out.png", dpi=100)
